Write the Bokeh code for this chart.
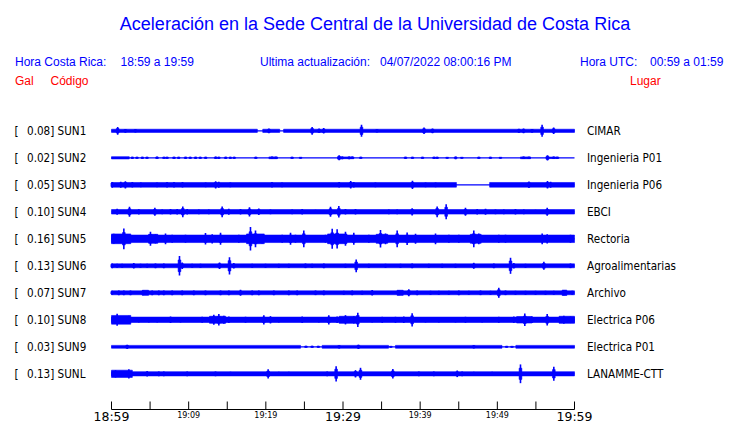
from bokeh.plotting import figure
from bokeh.models import Range1d
from bokeh.core.properties import value
from bokeh.embed import file_html
from bokeh.resources import INLINE

# ---------------- data ----------------
stations = ["SUN1", "SUN2", "SUN3", "SUN4", "SUN5", "SUN6", "SUN7", "SUN8", "SUN9", "SUNL"]
places = ["CIMAR", "Ingenieria P01", "Ingenieria P06", "EBCI", "Rectoria",
          "Agroalimentarias", "Archivo", "Electrica P06", "Electrica P01", "LANAMME-CTT"]
peak_gal = ["0.08", "0.02", "0.05", "0.10", "0.16", "0.13", "0.07", "0.10", "0.03", "0.13"]

# continuous background shaking: (start minute, end minute, half amplitude in Gal)
sun1_bands = [(0, 18.9, 0.021), (19.6, 21.8, 0.021), (22.3, 60, 0.021)]
sun2_bands = [(0, 2.3, 0.015), (20.4, 21.5, 0.012), (29.3, 31.4, 0.012), (53.0, 54.3, 0.012), (56.3, 57.8, 0.010)]
sun3_bands = [(0, 44.7, 0.031), (49.0, 60, 0.031)]
sun4_bands = [(0, 60, 0.030)]
sun5_bands = [(0, 60, 0.050), (0, 2.5, 0.065), (4.8, 6.0, 0.060), (17.5, 19.8, 0.065),
              (28.0, 30.5, 0.065), (34.3, 35.8, 0.060), (46.5, 47.9, 0.060)]
sun6_bands = [(0, 60, 0.026)]
sun7_bands = [(0, 60, 0.026), (4.0, 4.8, 0.034), (37.0, 37.8, 0.034), (58.4, 59.0, 0.036)]
sun8_bands = [(0, 60, 0.036), (0, 2.5, 0.058), (12.7, 14.8, 0.047), (29.5, 32.0, 0.047),
              (52.5, 54.5, 0.043), (58.0, 60, 0.047)]
sun9_bands = [(0, 24.5, 0.019), (27.3, 35.9, 0.019), (36.8, 50.6, 0.019), (52.4, 60, 0.019)]
sunl_bands = [(0, 60, 0.028), (0, 2.7, 0.048)]

# peaks: (minute, half amplitude in Gal)
sun1_spikes = [(0.8, .051), (1.8, .025), (3.1, .022), (20.4, .031), (26.0, .051), (26.9, .030),
               (27.5, .036), (32.4, .080), (34.4, .022), (40.5, .044), (41.6, .031), (52.8, .028),
               (53.4, .031), (54.5, .025), (55.8, .080), (57.3, .044)]
sun2_spikes = [(2.7, .015), (3.3, .013), (4.0, .015), (4.6, .013), (5.9, .016), (6.8, .013), (7.2, .013),
               (8.1, .015), (8.7, .013), (9.6, .015), (10.2, .013), (10.9, .015), (11.5, .013), (12.2, .013),
               (13.5, .016), (13.9, .015), (14.8, .015), (15.4, .013), (15.9, .013), (18.7, .013),
               (20.8, .016), (21.3, .015), (23.4, .013), (24.5, .012), (29.5, .033), (29.9, .018),
               (30.8, .018), (31.2, .016), (32.3, .014), (38.1, .015), (39.0, .013), (40.3, .013),
               (41.8, .015), (42.2, .013), (43.5, .012), (44.6, .018), (45.4, .012), (47.6, .013),
               (49.1, .013), (50.4, .012), (53.4, .016), (54.1, .015), (56.5, .035), (57.3, .016), (57.8, .015)]
sun3_spikes = [(0.1, .038), (1.2, .040), (1.8, .049), (2.7, .036), (3.8, .031), (5.9, .031), (7.2, .036),
               (8.1, .036), (9.2, .036), (12.2, .031), (13.5, .049), (13.9, .040), (15.4, .031), (20.8, .036),
               (22.1, .031), (29.5, .036), (31.0, .050), (31.4, .036), (34.2, .031), (39.0, .055),
               (40.7, .031), (42.0, .031), (54.1, .044), (56.5, .050), (56.9, .040)]
sun4_spikes = [(0.73, .040), (2.33, .067), (3.54, .035), (5.62, .053), (6.57, .031), (7.65, .036),
               (8.51, .036), (9.24, .071), (9.81, .036), (11.32, .031), (12.61, .031), (14.34, .071),
               (15.2, .040), (16.72, .036), (17.88, .062), (19.09, .044), (20.6, .031), (23.41, .031),
               (24.71, .036), (26.44, .027), (28.38, .067), (29.46, .076), (30.32, .036), (31.62, .036),
               (35.94, .031), (37.02, .031), (38.96, .049), (42.2, .071), (43.37, .100), (45.87, .053),
               (47.39, .036), (48.47, .040), (49.76, .031), (50.84, .031), (52.35, .036), (53.43, .031),
               (54.95, .027), (56.46, .053)]
sun5_spikes = [(0.3, .067), (1.6, .138), (2.25, .053), (3.54, .044), (5.05, .093), (5.7, .062), (7.0, .071),
               (7.86, .053), (9.59, .053), (10.45, .044), (12.18, .076), (13.05, .062), (14.13, .080),
               (16.5, .053), (18.01, .156), (18.66, .111), (19.52, .062), (22.12, .053), (23.2, .080),
               (23.84, .053), (24.92, .111), (26.0, .044), (27.73, .053), (28.6, .133), (29.24, .129),
               (30.32, .093), (31.4, .080), (33.35, .053), (34.86, .116), (35.51, .071), (37.02, .111),
               (38.31, .084), (39.4, .067), (41.99, .071), (43.72, .053), (45.01, .053), (46.95, .111),
               (47.6, .071), (50.19, .053), (51.06, .053), (53.22, .044), (55.81, .071), (56.46, .062),
               (57.97, .044), (59.48, .053)]
sun6_spikes = [(0.09, .031), (0.73, .027), (1.38, .027), (2.89, .036), (3.76, .027), (4.62, .027),
               (5.7, .031), (6.78, .031), (8.81, .130), (9.16, .044), (10.45, .027), (11.53, .027),
               (14.0, .044), (15.29, .115), (15.85, .036), (18.23, .027), (19.96, .027), (21.68, .027),
               (22.98, .027), (25.14, .031), (26.0, .027), (27.52, .031), (30.32, .027), (31.71, .085),
               (33.35, .027), (35.51, .027), (37.45, .027), (38.96, .031), (41.12, .027), (42.85, .027),
               (44.58, .027), (46.95, .040), (49.55, .031), (51.71, .107), (52.14, .036), (53.65, .027),
               (56.03, .053), (59.48, .031)]
sun7_spikes = [(0.09, .027), (0.95, .031), (1.6, .031), (2.46, .031), (4.06, .031), (5.27, .031),
               (6.13, .031), (6.78, .031), (7.86, .031), (9.16, .031), (10.67, .031), (12.18, .031),
               (14.13, .031), (15.21, .031), (16.72, .040), (18.23, .031), (19.09, .031), (21.04, .031),
               (22.98, .031), (24.06, .031), (26.44, .031), (27.52, .031), (30.11, .027), (31.19, .031),
               (32.48, .027), (33.78, .036), (37.24, .031), (38.53, .047), (39.61, .031), (41.34, .027),
               (42.42, .027), (43.72, .027), (45.01, .031), (46.31, .027), (47.82, .031), (49.11, .027),
               (50.19, .067), (51.06, .031), (52.35, .027), (53.65, .027), (54.95, .027), (56.24, .027),
               (57.32, .027), (58.62, .033), (59.7, .027)]
sun8_spikes = [(0.73, .080), (2.25, .053), (3.54, .036), (4.84, .036), (5.92, .036), (7.65, .044),
               (8.94, .036), (11.75, .040), (13.26, .067), (13.91, .076), (14.56, .053), (15.21, .044),
               (17.37, .040), (19.74, .062), (20.6, .049), (21.68, .036), (24.71, .044), (26.87, .036),
               (28.16, .062), (29.24, .044), (30.32, .062), (31.4, .049), (31.92, .095), (33.78, .036),
               (35.08, .040), (36.8, .040), (37.88, .044), (38.96, .089), (40.69, .036), (42.42, .036),
               (44.58, .036), (45.87, .040), (48.03, .036), (50.19, .040), (52.14, .044), (53.56, .084),
               (54.51, .044), (56.46, .076), (58.62, .053), (59.48, .044)]
sun9_spikes = [(2.03, .029), (25.2, .013), (26.0, .013), (26.8, .013), (29.5, .022), (32.0, .029),
               (36.2, .012), (46.95, .022), (51.2, .012), (51.9, .012)]
sunl_spikes = [(0.52, .049), (2.25, .062), (4.62, .036), (6.13, .031), (6.78, .031), (9.81, .031),
               (13.48, .031), (15.42, .027), (20.3, .062), (21.68, .027), (22.98, .027), (27.95, .031),
               (29.11, .102), (31.62, .049), (32.27, .080), (36.46, .064), (39.83, .031), (41.77, .031),
               (44.8, .044), (45.44, .031), (46.95, .027), (49.33, .027), (53.0, .125), (57.32, .093)]

all_bands = [sun1_bands, sun2_bands, sun3_bands, sun4_bands, sun5_bands,
             sun6_bands, sun7_bands, sun8_bands, sun9_bands, sunl_bands]
all_spikes = [sun1_spikes, sun2_spikes, sun3_spikes, sun4_spikes, sun5_spikes,
              sun6_spikes, sun7_spikes, sun8_spikes, sun9_spikes, sunl_spikes]

tick_minutes = [0, 5, 10, 15, 20, 25, 30, 35, 40, 45, 50, 55, 60]
label_minutes_big = [0, 30, 60]
labels_big = ["18:59", "19:29", "19:59"]
label_minutes_small = [10, 20, 40, 50]
labels_small = ["19:09", "19:19", "19:39", "19:49"]
duration_min = 60

# ---------------- layout / style ----------------
BLUE = "#0000ff"
RED = "#ff0000"
W, H = 740, 423
PAGE_LEFT, PAGE_TOP = 0, 0
T0_PX, T1_PX = 111, 574          # page x of 18:59 and 19:59
ROW0_PX, ROW_STEP = 130.3, 27.0  # page y of first trace, spacing
GAIN = 75.0 / ROW_STEP           # rows per Gal
BURST_W = 0.35                   # minutes
AXIS_Y = 409

ppm = (T1_PX - T0_PX) / duration_min
x_start = (PAGE_LEFT - T0_PX) / ppm
x_end = (PAGE_LEFT + W - T0_PX) / ppm
y_bottom = (PAGE_TOP + H - ROW0_PX) / ROW_STEP
y_top = (PAGE_TOP - ROW0_PX) / ROW_STEP

p = figure(width=W, height=H, output_backend="svg", toolbar_location=None,
           x_range=Range1d(x_start, x_end), y_range=Range1d(y_bottom, y_top),
           x_axis_location=None, y_axis_location=None, min_border=0)
p.extra_x_ranges = {"px": Range1d(PAGE_LEFT, PAGE_LEFT + W)}
p.extra_y_ranges = {"px": Range1d(PAGE_TOP + H, PAGE_TOP)}
p.outline_line_color = None
p.background_fill_color = "white"
p.border_fill_color = "white"
p.grid.visible = False

# ---------------- traces ----------------
ql, qr, qt, qb = [], [], [], []
sx, sy0, sy1 = [], [], []
lx0, lx1, ly = [], [], []
for i, (bands, spikes) in enumerate(zip(all_bands, all_spikes)):
    lx0.append(0); lx1.append(duration_min); ly.append(i)
    for t0, t1, a in bands:
        ql.append(t0); qr.append(t1); qt.append(i - a * GAIN); qb.append(i + a * GAIN)
    for t, a in spikes:
        sx.append(t); sy0.append(i - a * GAIN); sy1.append(i + a * GAIN)
        ql.append(t - BURST_W / 2); qr.append(t + BURST_W / 2)
        qt.append(i - 0.6 * a * GAIN); qb.append(i + 0.6 * a * GAIN)

p.segment(x0=lx0, x1=lx1, y0=ly, y1=ly, line_color=BLUE, line_width=1.3)
p.quad(left=ql, right=qr, top=qt, bottom=qb, fill_color=BLUE, line_color=BLUE, line_width=0.6)
p.segment(x0=sx, x1=sx, y0=sy0, y1=sy1, line_color=BLUE, line_width=1.6)

# ---------------- row labels ----------------
rows = list(range(len(stations)))
COND = value("DejaVu Sans Condensed, DejaVu Sans")
p.text(x=[14] * len(rows), y=rows, text=["["] * len(rows), x_range_name="px",
       text_font=COND, text_font_size="11.6px", text_color="black",
       text_align="left", text_baseline="middle")
p.text(x=[26.5] * len(rows), y=rows, text=[f"{g}] {s}" for g, s in zip(peak_gal, stations)],
       x_range_name="px", text_font=COND, text_font_size="11.6px", text_color="black",
       text_align="left", text_baseline="middle")
p.text(x=[586.5] * len(rows), y=rows, text=places, x_range_name="px",
       text_font=COND, text_font_size="11.6px", text_color="black",
       text_align="left", text_baseline="middle")

# ---------------- header ----------------
HF = value("Liberation Sans")
p.text(x=[374.5], y=[23], text=["Aceleración en la Sede Central de la Universidad de Costa Rica"],
       x_range_name="px", y_range_name="px", text_font=HF, text_font_size="18px",
       text_color=BLUE, text_align="center", text_baseline="middle")
p.text(x=[14.5, 120, 259.5, 379.5, 579.5, 649.5], y=[61] * 6,
       text=["Hora Costa Rica:", "18:59 a 19:59", "Ultima actualización:",
             "04/07/2022 08:00:16 PM", "Hora UTC:", "00:59 a 01:59"],
       x_range_name="px", y_range_name="px", text_font=HF, text_font_size="12px",
       text_color=BLUE, text_align="left", text_baseline="middle")
p.text(x=[14.5, 50, 629.5], y=[80.5] * 3, text=["Gal", "Código", "Lugar"],
       x_range_name="px", y_range_name="px", text_font=HF, text_font_size="12px",
       text_color=RED, text_align="left", text_baseline="middle")

# ---------------- time axis ----------------
p.segment(x0=[0], x1=[duration_min], y0=[AXIS_Y], y1=[AXIS_Y], y_range_name="px",
          line_color="black", line_width=1)
p.segment(x0=tick_minutes, x1=tick_minutes, y0=[AXIS_Y - 8] * len(tick_minutes),
          y1=[AXIS_Y] * len(tick_minutes), y_range_name="px", line_color="black", line_width=1)
p.text(x=label_minutes_big, y=[AXIS_Y + 7] * 3, text=labels_big, y_range_name="px",
       text_font=value("DejaVu Sans"), text_font_size="12.5px", text_color="black",
       text_align="center", text_baseline="middle")
p.text(x=label_minutes_small, y=[AXIS_Y + 6] * 4, text=labels_small, y_range_name="px",
       text_font=value("DejaVu Sans"), text_font_size="8px", text_color="black",
       text_align="center", text_baseline="middle")

open("out.html", "w").write(file_html(p, INLINE))
